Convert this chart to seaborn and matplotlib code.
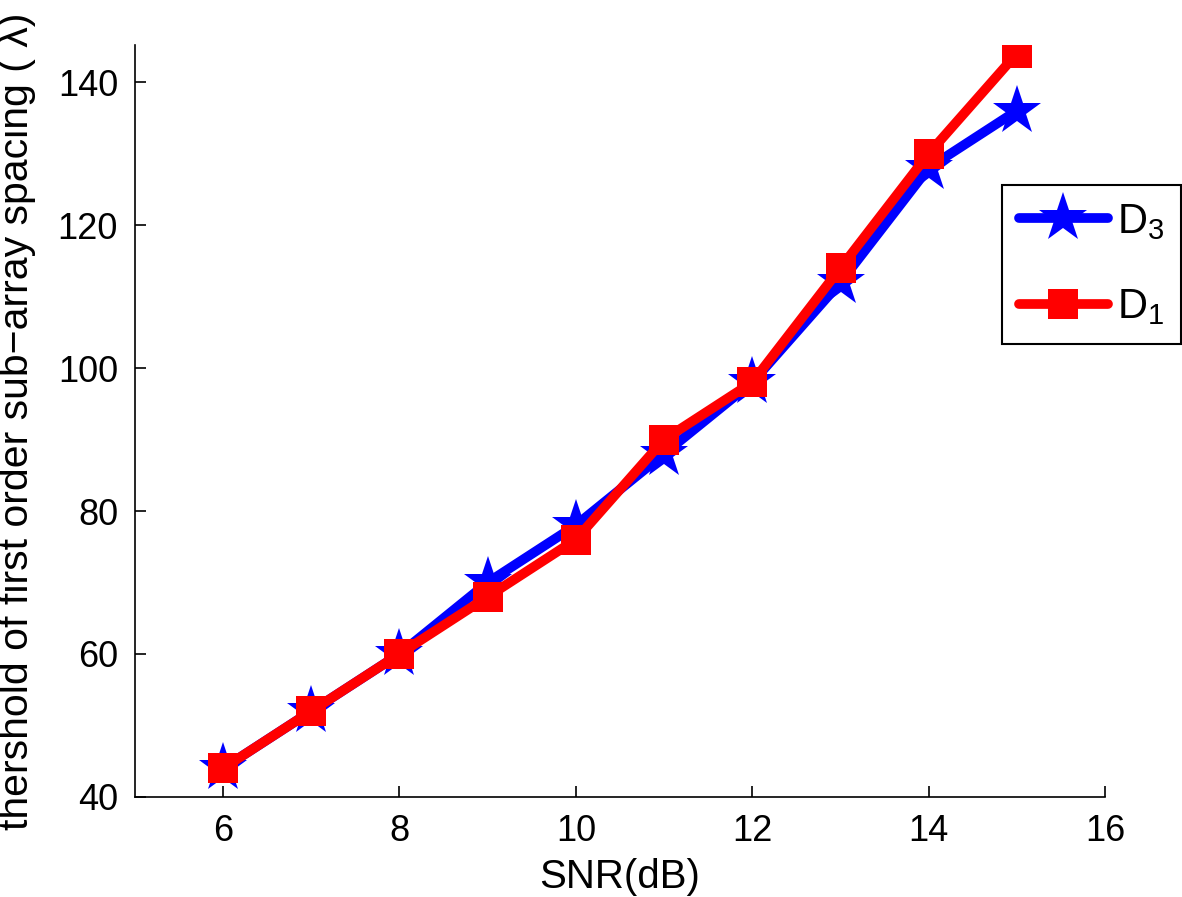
import matplotlib
matplotlib.use("Agg")
import matplotlib.pyplot as plt
import seaborn as sns
import pandas as pd

snr_db = [6, 7, 8, 9, 10, 11, 12, 13, 14, 15]
d3_threshold = [44, 52, 60, 70, 78, 88, 98, 112, 128, 136]
d1_threshold = [44, 52, 60, 68, 76, 90, 98, 114, 130, 144]

x_ticks = [6, 8, 10, 12, 14, 16]
y_ticks = [40, 60, 80, 100, 120, 140]

sns.set_style("white")
plt.rcParams['font.family'] = ['Liberation Sans', 'DejaVu Sans']
plt.rcParams['mathtext.default'] = 'regular'
for key in ["text.color", "axes.labelcolor", "xtick.color", "ytick.color"]:
    plt.rcParams[key] = "black"

df = pd.DataFrame({"snr": snr_db, "D3": d3_threshold, "D1": d1_threshold})

fig = plt.figure(figsize=(11.82, 8.97), dpi=100)
ax = fig.add_axes([0.114, 0.1115, 0.821, 0.8385])

sns.lineplot(data=df, x="snr", y="D3", ax=ax, color="#0000ff", linewidth=7,
             marker="*", markersize=37, markeredgewidth=0, label=r"D$_3$")
sns.lineplot(data=df, x="snr", y="D1", ax=ax, color="#ff0000", linewidth=7,
             marker="s", markersize=22, markeredgewidth=0, label=r"D$_1$")

ax.set_xlim(5, 16)
ax.set_ylim(40, 145.2)
ax.set_xticks(x_ticks)
ax.set_yticks(y_ticks)
ax.tick_params(axis="both", direction="in", length=8, width=1.2, labelsize=26,
               bottom=True, left=True, top=False, right=False, pad=12)
for side in ["top", "right"]:
    ax.spines[side].set_visible(False)
for side in ["left", "bottom"]:
    ax.spines[side].set_color("black")
    ax.spines[side].set_linewidth(1.2)

ax.set_xlabel("SNR(dB)", fontsize=29, labelpad=7)
ax.set_ylabel("thershold of first order sub\u2212array spacing ( \u03bb)", fontsize=29.5)
ax.yaxis.set_label_coords(-0.102, 0.5)

leg = ax.legend(loc="upper left", bbox_to_anchor=(1002 / 1182, 1 - 185 / 897),
                bbox_transform=fig.transFigure, fontsize=30, frameon=True,
                fancybox=False, edgecolor="black", handlelength=2.15,
                borderpad=0.4, labelspacing=1.1, handletextpad=0.2,
                borderaxespad=0)
leg.get_frame().set_linewidth(1.5)
leg.get_frame().set_alpha(1)

fig.savefig("out.png", dpi=100)
